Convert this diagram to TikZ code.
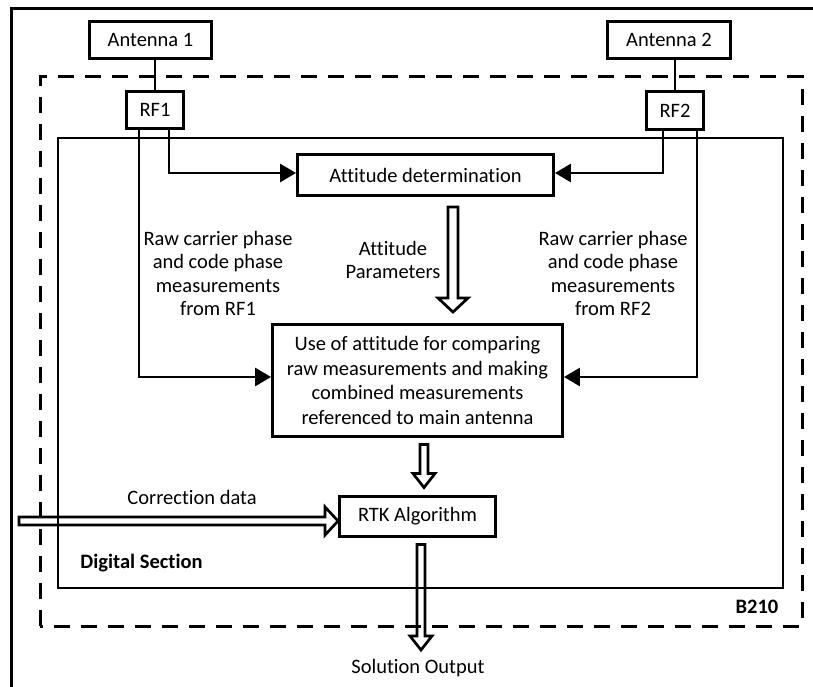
\documentclass[tikz,border=0pt]{standalone}
\usepackage{fontspec}
\setmainfont{Carlito}[Ligatures=NoCommon]
\usetikzlibrary{arrows.meta,calc}

\tikzset{
  blk/.style={draw, line width=2.9pt, align=center, inner sep=0pt},
  wire/.style={line width=2.9pt},
  conn/.style={line width=2.9pt, -{Triangle[length=16pt,width=18pt]}},
  hollowarr/.style={line width=2.7pt, line join=miter},
  lbl/.style={align=center, inner sep=0pt},
}
% hollow block arrow pointing down: from, tip, shaft half width, head half width
\newcommand{\hollowdown}[4]{%
  \draw[hollowarr] ($(#1)+(-#3,0)$) -- ($(#2)+(-#3,14)$) -- ($(#2)+(-#4,14)$) -- (#2)
    -- ($(#2)+(#4,14)$) -- ($(#2)+(#3,14)$) -- ($(#1)+(#3,0)$) -- cycle;}

\begin{document}
\begin{tikzpicture}[x=1pt, y=1pt, font=\fontsize{20.5}{23.5}\selectfont]
  \useasboundingbox (0,0) rectangle (813,686);
  \clip (0,0) rectangle (813,686);

  % frames
  \draw[line width=3pt] (11,-10) -- (11,677) -- (830,677);
  \draw[line width=3pt, dash pattern=on 16pt off 11pt] (40,60) rectangle (802,609);
  \draw[wire] (58,98) rectangle (783,548);

  % blocks
  \node[blk, minimum width=122, minimum height=37] (ant1) at (150.5,646) {Antenna 1};
  \node[blk, minimum width=123, minimum height=37] (ant2) at (669,646) {Antenna 2};
  \node[blk, minimum width=57, minimum height=37] (rf1) at (155,576) {RF1};
  \node[blk, minimum width=57, minimum height=38] (rf2) at (675,575.5) {RF2};
  \node[blk, minimum width=256, minimum height=41] (att) at (425.5,511) {Attitude determination};
  \node[blk, minimum width=290, minimum height=112, font=\fontsize{20.5}{24.5}\selectfont] (use) at (417.5,305.5)
    {Use of attitude for comparing\\raw measurements and making\\combined measurements\\referenced to main antenna};
  \node[blk, minimum width=156, minimum height=40] (rtk) at (417.5,169.5) {RTK Algorithm};

  % labels
  \node[lbl] (raw1) at (218,412.5) {Raw carrier phase\\and code phase\\measurements\\from RF1};
  \node[lbl] (raw2) at (613,412.5) {Raw carrier phase\\and code phase\\measurements\\from RF2};
  \node[lbl] (par) at (393,426) {Attitude\\Parameters};
  \node[lbl] (corr) at (192,189) {Correction data};
  \node[lbl, font=\fontsize{20.5}{23.5}\selectfont\bfseries] (dig) at (141.5,123) {Digital Section};
  \node[lbl, font=\fontsize{20.5}{23.5}\selectfont\bfseries] (b210) at (757,79) {B210};
  \node[lbl] (out) at (418,18) {Solution Output};

  % antenna feeds
  \draw[wire] (rf1.north) -- (rf1.north |- ant1.south);
  \draw[wire] (rf2.north) -- (rf2.north |- ant2.south);

  % RF outputs
  \draw[conn] ([xshift=14]rf1.south) |- ([yshift=2]att.west);
  \draw[conn] ([xshift=-12]rf2.south) |- ([yshift=2]att.east);
  \draw[conn] ([xshift=-16]rf1.south) |- ([yshift=3.5]use.west);
  \draw[conn] ([xshift=22]rf2.south) |- ([yshift=3.5]use.east);

  % block arrows
  \coordinate (parTop) at ([xshift=27.5,yshift=-10]att.south);
  \coordinate (parTip) at ([xshift=35.5,yshift=11]use.north);
  \hollowdown{parTop}{parTip}{5}{15}
  \coordinate (combTop) at ([xshift=6.5,yshift=-6.5]use.south);
  \coordinate (combTip) at ([xshift=6.5,yshift=7.5]rtk.north);
  \hollowdown{combTop}{combTip}{4}{11}
  \coordinate (outTop) at ([xshift=3.5,yshift=-6.5]rtk.south);
  \coordinate (outTip) at (421,36);
  \hollowdown{outTop}{outTip}{4}{11}

  \coordinate (corrTip) at ([yshift=-4.5]rtk.west);
  \coordinate (corrStart) at (19,165);
  \draw[hollowarr] ($(corrStart)+(0,-4)$) -- ($(corrTip)+(-13,-4)$) -- ($(corrTip)+(-13,-14)$) -- (corrTip)
    -- ($(corrTip)+(-13,14)$) -- ($(corrTip)+(-13,4)$) -- ($(corrStart)+(0,4)$) -- cycle;
\end{tikzpicture}
\end{document}
